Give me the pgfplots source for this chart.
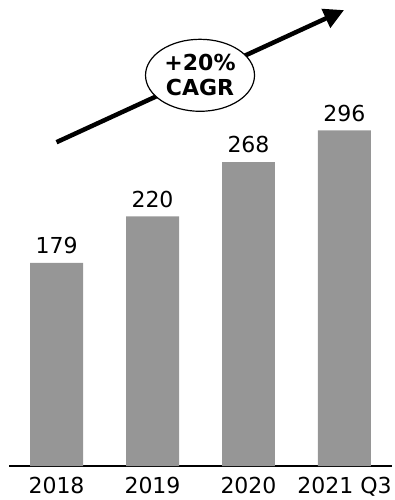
\documentclass[border=0pt]{standalone}
\usepackage{fontspec}
\setmainfont{DejaVu Sans}
\usepackage{pgfplots}
\pgfplotsset{compat=1.18}
\usetikzlibrary{arrows.meta,shapes.geometric}
\definecolor{bargray}{RGB}{150,150,150}
\begin{document}
\begin{tikzpicture}
\begin{axis}[
  scale only axis, width=383pt, height=466pt,
  xmin=-0.495, xmax=3.495, ymin=0, ymax=410.9,
  axis x line=bottom, axis y line=none,
  x axis line style={-, line width=1.5pt, black},
  xtick={0,1,2,3}, xticklabels={2018,2019,2020,2021 Q3},
  major tick length=0pt,
  xticklabel style={font=\fontsize{22}{26}\selectfont, anchor=base, yshift=-27.5pt},
  ytick=\empty,
  clip=false,
  ybar, bar width=0.552, bar shift=0pt,
  nodes near coords,
  every node near coord/.append style={font=\fontsize{22}{26}\selectfont, anchor=base, yshift=9.3pt, black},
  /pgf/number format/assume math mode=true,
]
\addplot[fill=bargray, draw=none] coordinates {(0,179) (1,220) (2,268) (3,296)};
\draw[line width=4.5pt, -{Triangle[length=20pt,width=20pt]}] (axis cs:0,285.5) -- (axis cs:2.995,402);
\node[ellipse, draw, line width=1.2pt, fill=white, minimum width=109pt, minimum height=72pt, inner sep=0pt, align=center, font=\fontsize{22}{25}\selectfont\bfseries] at (axis cs:1.495,344.5) {+20\%\\CAGR};
\coordinate (bl) at (rel axis cs:0,0);
\coordinate (tr) at (rel axis cs:1,1);
\end{axis}
\pgfresetboundingbox
\useasboundingbox ([xshift=-9pt,yshift=-34pt]bl) rectangle ([xshift=2pt]tr);
\end{tikzpicture}
\end{document}
